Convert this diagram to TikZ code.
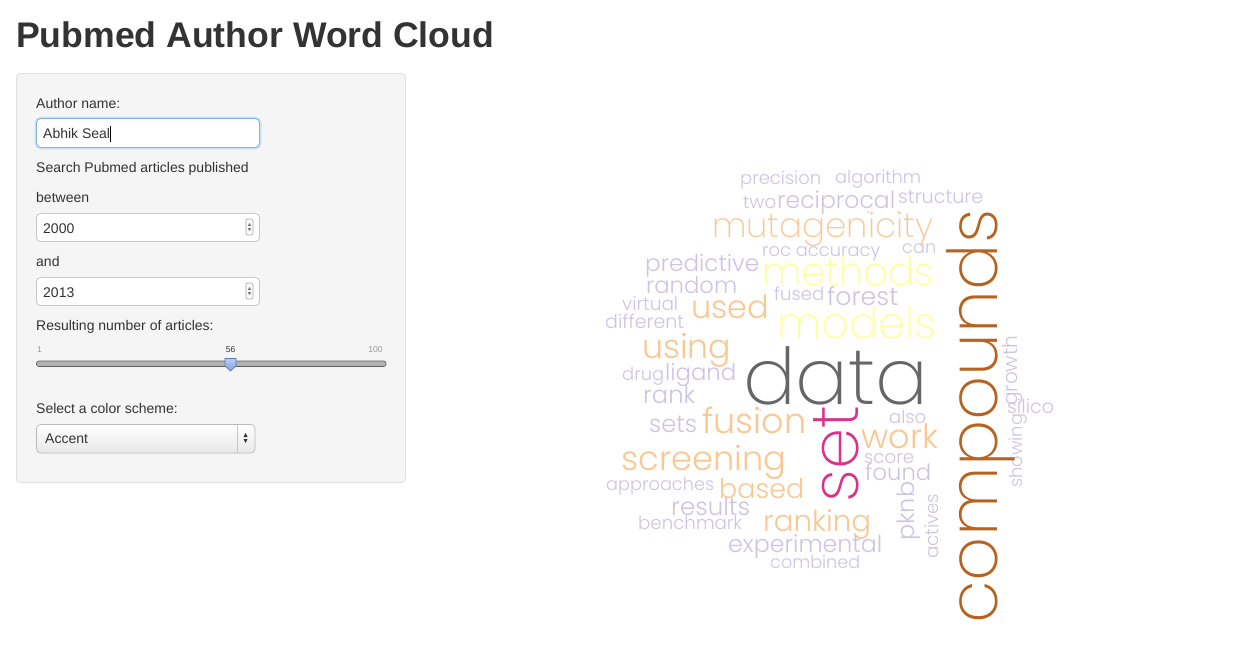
\documentclass[tikz,border=0pt]{standalone}
\usepackage{fontspec}
\usepackage{graphicx}
\setmainfont{Liberation Sans}
\newfontfamily\cloud{Poppins Light}
\newfontfamily\cloudthin{Poppins ExtraLight}
\definecolor{txt}{HTML}{333333}
\definecolor{panelbg}{HTML}{F5F5F5}
\definecolor{panelbd}{HTML}{E0E0E0}
\definecolor{inbd}{HTML}{C8C8C8}
\definecolor{focusbd}{HTML}{7FB2EC}
\definecolor{glowc}{HTML}{CFE3F8}
\definecolor{cL}{HTML}{CDC4E3}
\definecolor{cO}{HTML}{F9C893}
\definecolor{cY}{HTML}{FFFF99}
\definecolor{cP}{HTML}{DC3089}
\definecolor{cB}{HTML}{B8621F}
\definecolor{cG}{HTML}{666666}
\definecolor{hdtop}{HTML}{BCD0F4}
\definecolor{hdbot}{HTML}{7E9FE2}
\definecolor{hdbd}{HTML}{5A78BC}
\newdimen\wcw
\let\wcfont\cloud
\newcommand\hword[6]{\node[anchor=base west,inner sep=0pt,text=#2] (#1) at (#3,#5) {\wcw=\dimexpr #4pt-#3pt\relax\resizebox{\wcw}{!}{\wcfont #6}};}
\newcommand\vword[6]{\node[anchor=base west,inner sep=0pt,rotate=90,text=#2] (#1) at (#3,#4) {\wcw=\dimexpr #4pt-#5pt\relax\resizebox{\wcw}{!}{\wcfont #6}};}
\newcommand\spinner[1]{%
  \draw[gray!75,fill=white,rounded corners=2,line width=0.6] (246,#1) rectangle (253,#1+16);
  \fill[gray!90!black] (247.7,#1+7) -- (251.3,#1+7) -- (249.5,#1+4) -- cycle;
  \fill[gray!90!black] (247.7,#1+9) -- (251.3,#1+9) -- (249.5,#1+12) -- cycle;}
\begin{document}
\begin{tikzpicture}[x=1pt,y=-1pt,
  ui/.style={anchor=base west,inner sep=0pt,text=txt,font=\fontsize{14}{16}\selectfont},
  small/.style={anchor=base,inner sep=0pt,font=\fontsize{8.5}{10}\selectfont},
  inputbox/.style={draw=inbd,fill=white,rounded corners=4,line width=0.8}]
\useasboundingbox (0,0) rectangle (1258,670);
\fill[white] (0,0) rectangle (1258,670);
% title
\node[anchor=base west,inner sep=0pt,text=txt,font=\fontsize{35.6}{40}\selectfont\bfseries] (title) at (16,47) {Pubmed Author Word Cloud};
% panel
\draw[draw=panelbd,fill=panelbg,rounded corners=4,line width=0.8] (16.5,73.5) rectangle (405.5,482.5);
\node[ui] (lauthor) at (36,108) {Author name:};
\draw[glowc,line width=4,rounded corners=5] (36.5,118.5) rectangle (259.5,147.5);
\draw[draw=focusbd,fill=white,rounded corners=4,line width=0.9] (36.5,118.5) rectangle (259.5,147.5);
\node[ui] (vauthor) at (43,138) {Abhik Seal};
\draw[black,line width=0.8] (110,126) -- (110,142);
\node[ui] (lsearch) at (36,172) {Search Pubmed articles published};
\node[ui] (lbetween) at (36,202) {between};
\draw[inputbox] (36.5,213.5) rectangle (259.5,241.5);
\node[ui] (vfrom) at (43,233) {2000};
\spinner{219}
\node[ui] (land) at (36,266) {and};
\draw[inputbox] (36.5,277.5) rectangle (259.5,305.5);
\node[ui] (vto) at (43,297) {2013};
\spinner{283}
\node[ui] (lresult) at (36,330) {Resulting number of articles:};
\node[small,text=gray!80] (smin) at (39.5,352) {1};
\node[small,text=txt] (sval) at (230.5,352) {56};
\node[small,text=gray!80] (smax) at (375.5,352) {100};
\draw[draw=gray!75!black,fill=gray!60,rounded corners=2.2,line width=0.6] (36.5,361) rectangle (386,366.5);
\shade[top color=hdtop,bottom color=hdbot,draw=hdbd,line width=0.6]
  (225,358.5) -- (236,358.5) -- (236,366) -- (230.5,371) -- (225,366) -- cycle;
\node[ui] (lscheme) at (36,413) {Select a color scheme:};
\shade[top color=white,bottom color=gray!18,draw=gray!55,rounded corners=4,line width=0.7] (36.5,424.5) rectangle (255,453);
\draw[gray!45,line width=0.6] (237,425) -- (237,452.5);
\node[ui] (vscheme) at (45,443) {Accent};
\fill[gray!40!black] (243.6,437) -- (247.6,437) -- (245.6,433) -- cycle;
\fill[gray!40!black] (243.6,439) -- (247.6,439) -- (245.6,443) -- cycle;
% word cloud: horizontal words (name, colour, left, right, baseline, word)
\hword{wprecision}{cL}{740}{821}{184}{precision}
\hword{walgorithm}{cL}{835}{921}{183}{algorithm}
\hword{wtwo}{cL}{743}{776}{208}{two}
\hword{wreciprocal}{cL}{777}{895}{208}{reciprocal}
\hword{wstructure}{cL}{898}{983}{203}{structure}
\hword{wroc}{cL}{762}{880}{256}{roc accuracy}
\hword{wcan}{cL}{902}{936}{253}{can}
\hword{wpredictive}{cL}{645}{759}{271}{predictive}
\hword{wrandom}{cL}{646}{737}{293}{random}
\hword{wfused}{cL}{774}{824}{300}{fused}
\hword{wforest}{cL}{827}{898}{305}{forest}
\hword{wvirtual}{cL}{622}{678}{310}{virtual}
\hword{wused}{cO}{691}{769}{318}{used}
\hword{wdifferent}{cL}{605}{684}{328}{different}
\hword{wusing}{cO}{642}{731}{358}{using}
\hword{wdrug}{cL}{622}{664}{380}{drug}
\hword{wligand}{cL}{665}{736}{380}{ligand}
\hword{wrank}{cL}{643}{695}{403}{rank}
\hword{wsilico}{cL}{1007}{1054}{413}{silico}
\hword{walso}{cL}{889}{926}{423}{also}
\hword{wsets}{cL}{649}{697}{432}{sets}
\hword{wfusion}{cO}{702}{806}{433}{fusion}
\hword{wwork}{cO}{861}{938}{448}{work}
\hword{wscore}{cL}{864}{914}{463}{score}
\hword{wscreening}{cO}{621}{786}{470}{screening}
\hword{wfound}{cL}{865}{931}{480}{found}
\hword{wapproaches}{cL}{606}{714}{490}{approaches}
\hword{wbased}{cO}{719}{804}{498}{based}
\hword{wresults}{cL}{671}{750}{515}{results}
\hword{wbenchmark}{cL}{638}{742}{529}{benchmark}
\hword{wranking}{cO}{763}{871}{531}{ranking}
\hword{wexperimental}{cL}{728}{882}{552}{experimental}
\hword{wcombined}{cL}{770}{860}{568}{combined}
% vertical words (name, colour, baseline x, bottom y, top y, word)
\vword{wshowing}{cL}{1022}{488}{414}{showing}
\vword{wgrowth}{cL}{1017}{406}{336}{growth}
\vword{wpknb}{cL}{914}{541}{482}{pknb}
\vword{wactives}{cL}{938}{559}{494}{actives}
% large words in a thinner weight
\let\wcfont\cloudthin
\hword{wmutagenicity}{cO}{712}{933}{237}{mutagenicity}
\hword{wmethods}{cY}{762}{934}{285}{methods}
\hword{wmodels}{cY}{777}{936}{338}{models}
\hword{wdata}{cG}{743}{928}{404}{data}
\vword{wcompounds}{cB}{997}{624}{210}{compounds}
\vword{wset}{cP}{858}{503}{406}{set}
% stray dots
\foreach \px/\py in {868/212,898/212,685/334,760/410,739/446,830/510}
  \fill[cO] (\px,\py) circle (1);
\end{tikzpicture}
\end{document}
